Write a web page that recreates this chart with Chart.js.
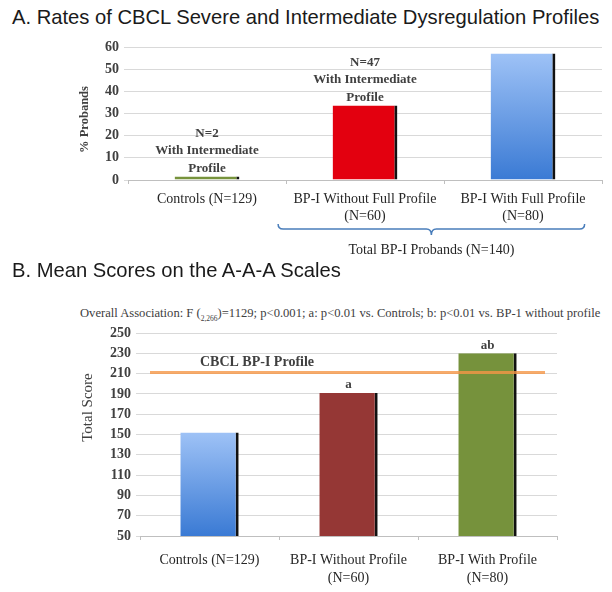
<!DOCTYPE html>
<html lang="en">
<head>
<meta charset="utf-8">
<title>CBCL Dysregulation Profiles and A-A-A Scores</title>
<script src="https://cdn.jsdelivr.net/npm/chart.js@4.4.1/dist/chart.umd.min.js"></script>
<style>
  body { margin: 0; background: #fff; }
  #wrap { position: relative; width: 612px; height: 592px; overflow: hidden; }
  .title { position: absolute; left: 12px; font-family: "Liberation Sans", Arial, sans-serif; font-size: 20.2px; line-height: 22px; color: #1a1a1a; white-space: nowrap; }
  #titleA { top: 6px; }
  #titleB { top: 259px; }
  #noteB { position: absolute; left: 80px; top: 306px; font-family: "Liberation Serif", serif; font-size: 12.6px; line-height: 14px; color: #404040; white-space: nowrap; }
  #noteB sub { font-size: 7.5px; }
  canvas { position: absolute; left: 0; }
  #chartA { top: 30px; }
  #chartB { top: 300px; }
</style>
</head>
<body>
<div id="wrap">
  <div class="title" id="titleA">A. Rates of CBCL Severe and Intermediate Dysregulation Profiles</div>
  <canvas id="chartA" width="612" height="230"></canvas>
  <div class="title" id="titleB">B. Mean Scores on the A-A-A Scales</div>
  <div id="noteB">Overall Association: F (<sub>2,266</sub>)=1129; p&lt;0.001; a: p&lt;0.01 vs. Controls; b: p&lt;0.01 vs. BP-1 without profile</div>
  <canvas id="chartB" width="612" height="292"></canvas>
</div>
<script>
// panel A: % of probands with a CBCL dysregulation profile
const groupsA = [['Controls (N=129)'], ['BP-I Without Full Profile', '(N=60)'], ['BP-I With Full Profile', '(N=80)']];
const ratesA = [1.6, 33.6, 57.1];
const notesA = [['N=2', 'With Intermediate', 'Profile'], ['N=47', 'With Intermediate', 'Profile'], []];
const bracketA = 'Total BP-I Probands (N=140)';
const fillA = ['#77933c', '#e3000f', 'blue'];

// panel B: mean A-A-A total scores
const groupsB = [['Controls (N=129)'], ['BP-I Without Profile', '(N=60)'], ['BP-I With Profile', '(N=80)']];
const scoresB = [152, 191, 230];
const lettersB = ['', 'a', 'ab'];
const fillB = ['blue', '#953735', '#76923c'];
const profileCutoff = 211;
const profileLabel = 'CBCL BP-I Profile';

const serif = '"Liberation Serif", "Times New Roman", serif';
const ink = '#404040';

// 'blue' means light-to-dark blue running down the bar itself
function barFill(c, fills) {
  const f = fills[c.dataIndex];
  if (f !== 'blue') return f;
  const y = c.chart.scales.y;
  const top = y ? y.getPixelForValue(c.raw) : NaN;
  const bot = y ? y.getPixelForValue(y.min) : NaN;
  if (!isFinite(top) || !isFinite(bot) || bot - top < 2) return '#6d9fe6';
  const g = c.chart.ctx.createLinearGradient(0, top, 0, bot);
  g.addColorStop(0, '#9ec2f6');
  g.addColorStop(1, '#3a7ad4');
  return g;
}

function baseOptions(min, max, step) {
  return {
    responsive: false,
    animation: false,
    plugins: { legend: { display: false }, tooltip: { enabled: false } },
    scales: {
      x: {
        grid: { drawOnChartArea: false, drawTicks: true, tickLength: 4, color: '#bfbfbf' },
        border: { color: '#bfbfbf' },
        ticks: { color: '#262626', font: { family: serif, size: 14 }, maxRotation: 0, autoSkip: false }
      },
      y: {
        min: min, max: max,
        grid: { color: '#d9d9d9', tickLength: 4 },
        border: { display: false },
        ticks: { stepSize: step, padding: 5, color: ink, font: { family: serif, size: 14, weight: 'bold' } }
      }
    }
  };
}

// ---- chart A ----
const optsA = baseOptions(0, 60, 10);
optsA.layout = { padding: { top: 17, right: 10, left: 0, bottom: 0 } };
optsA.scales.y.afterFit = s => { s.width = 128; };
optsA.scales.x.afterFit = s => { s.height = 80; };
optsA.scales.x.ticks.padding = 7;

const extrasA = {
  id: 'extrasA',
  afterDatasetsDraw(chart) {
    const { ctx, chartArea: area } = chart;
    const x = chart.scales.x;
    ctx.save();
    // labels over the bars
    ctx.font = 'bold 13px ' + serif;
    ctx.fillStyle = ink;
    ctx.textAlign = 'center';
    ctx.textBaseline = 'middle';
    chart.getDatasetMeta(0).data.forEach((bar, i) => {
      const lines = notesA[i];
      lines.forEach((t, k) => {
        ctx.fillText(t, bar.x, bar.y - 8 - (lines.length - 1 - k) * 17.5);
      });
    });
    // axis title
    ctx.save();
    ctx.translate(area.left - 43, (area.top + area.bottom) / 2 + 6);
    ctx.rotate(-Math.PI / 2);
    ctx.font = 'bold 12.5px ' + serif;
    ctx.fillText('% Probands', 0, 0);
    ctx.restore();
    // brace under the two BP-I groups
    const cw = x.getPixelForValue(1) - x.getPixelForValue(0);
    const xL = x.getPixelForValue(1) - 0.55 * cw;
    const xR = x.getPixelForValue(2) + 0.39 * cw;
    const xm = (xL + xR) / 2;
    const yb = area.bottom + 49;
    ctx.strokeStyle = '#4a7ebb';
    ctx.lineWidth = 1.5;
    ctx.beginPath();
    ctx.moveTo(xL, yb - 5);
    ctx.quadraticCurveTo(xL, yb, xL + 5, yb);
    ctx.lineTo(xm - 5, yb);
    ctx.quadraticCurveTo(xm, yb, xm, yb + 6);
    ctx.quadraticCurveTo(xm, yb, xm + 5, yb);
    ctx.lineTo(xR - 5, yb);
    ctx.quadraticCurveTo(xR, yb, xR, yb - 5);
    ctx.stroke();
    ctx.font = '14px ' + serif;
    ctx.fillStyle = '#262626';
    ctx.fillText(bracketA, xm, yb + 21);
    ctx.restore();
  }
};

new Chart(document.getElementById('chartA'), {
  type: 'bar',
  data: {
    labels: groupsA,
    datasets: [{
      data: ratesA,
      backgroundColor: c => barFill(c, fillA),
      borderColor: '#111',
      borderWidth: { top: 0, right: 3, bottom: 0, left: 0 },
      borderSkipped: false,
      barPercentage: 0.41,
      categoryPercentage: 1
    }]
  },
  options: optsA,
  plugins: [extrasA]
});

// ---- chart B ----
const optsB = baseOptions(50, 250, 20);
optsB.layout = { padding: { top: 33, right: 55, left: 0, bottom: 0 } };
optsB.scales.y.afterFit = s => { s.width = 140; };
optsB.scales.x.afterFit = s => { s.height = 56; };
optsB.scales.x.ticks.padding = 11;
optsB.scales.x.ticks.font.lineHeight = 1.3;

const extrasB = {
  id: 'extrasB',
  afterDatasetsDraw(chart) {
    const { ctx, chartArea: area } = chart;
    const y = chart.scales.y;
    ctx.save();
    ctx.fillStyle = ink;
    ctx.textAlign = 'center';
    ctx.textBaseline = 'middle';
    // significance letters
    ctx.font = 'bold 13px ' + serif;
    chart.getDatasetMeta(0).data.forEach((bar, i) => {
      if (lettersB[i]) ctx.fillText(lettersB[i], bar.x, bar.y - 8);
    });
    // profile cut-off line
    const yl = y.getPixelForValue(profileCutoff);
    ctx.strokeStyle = 'rgba(245, 150, 70, 0.8)';
    ctx.lineWidth = 3;
    ctx.beginPath();
    ctx.moveTo(area.left + 10, yl);
    ctx.lineTo(area.right - 12, yl);
    ctx.stroke();
    ctx.font = 'bold 14px ' + serif;
    ctx.fillText(profileLabel, area.left + 117, yl - 10);
    // axis title
    ctx.translate(area.left - 52, (area.top + area.bottom) / 2 - 27);
    ctx.rotate(-Math.PI / 2);
    ctx.font = '15px ' + serif;
    ctx.fillText('Total Score', 0, 0);
    ctx.restore();
  }
};

new Chart(document.getElementById('chartB'), {
  type: 'bar',
  data: {
    labels: groupsB,
    datasets: [{
      data: scoresB,
      backgroundColor: c => barFill(c, fillB),
      borderColor: '#111',
      borderWidth: { top: 0, right: 3, bottom: 0, left: 0 },
      borderSkipped: false,
      barPercentage: 0.42,
      categoryPercentage: 1
    }]
  },
  options: optsB,
  plugins: [extrasB]
});
</script>
</body>
</html>
